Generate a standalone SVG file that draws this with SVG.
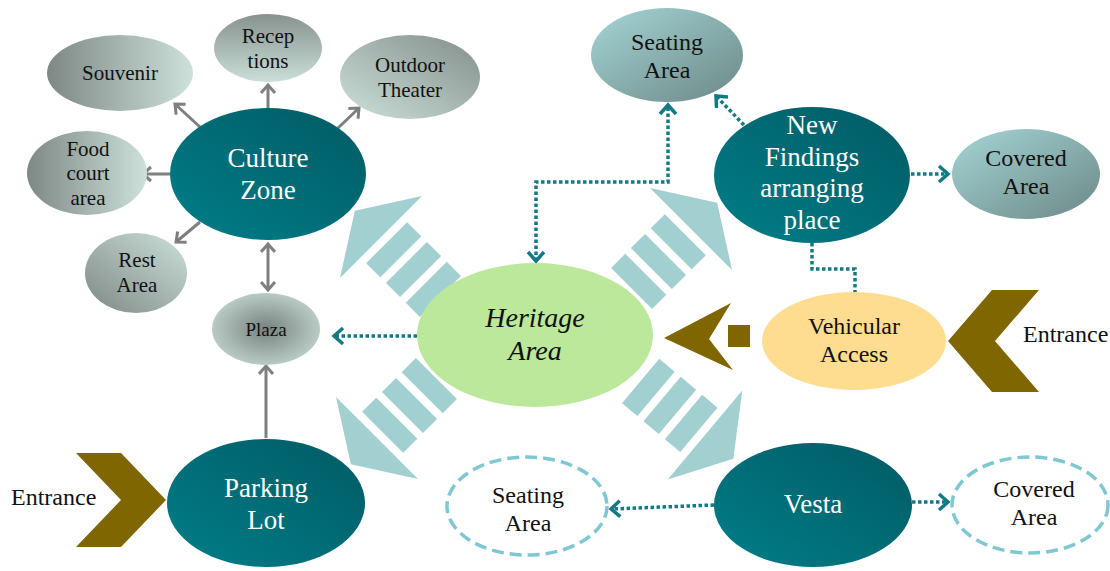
<svg xmlns="http://www.w3.org/2000/svg" xmlns:xlink="http://www.w3.org/1999/xlink" width="1110" height="571" viewBox="0 0 1110 571">
<style>
  .t { font-family: "Liberation Serif", "Times New Roman", serif; text-anchor: middle; fill: #111; }
  .w { fill: #ffffff; font-size: 27px; }
  .s20 { font-size: 21px; }
  .s24 { font-size: 24px; }
  .gray { fill: none; stroke: #7f7f7f; stroke-width: 3; }
  .dot { fill: none; stroke: #117b85; stroke-width: 3.5; stroke-dasharray: 3.5 2.5; }
  .dash { fill: #ffffff; stroke: #7fc7d3; stroke-width: 3.5; stroke-dasharray: 12 6; }
  .blk { fill: #a2cfd0; }
  .brown { fill: #7f6600; }
</style>
<defs>
  <linearGradient id="gTeal" x1="0" y1="1" x2="1" y2="0">
    <stop offset="0" stop-color="#007e88"/>
    <stop offset="1" stop-color="#025a64"/>
  </linearGradient>
  <linearGradient id="gLR" x1="0" y1="0" x2="1" y2="0">
    <stop offset="0" stop-color="#7e8885"/>
    <stop offset="1" stop-color="#cde1da"/>
  </linearGradient>
  <linearGradient id="gTB" x1="0" y1="0" x2="0" y2="1">
    <stop offset="0" stop-color="#87928f"/>
    <stop offset="1" stop-color="#cadfd8"/>
  </linearGradient>
  <linearGradient id="gTRBL" x1="1" y1="0" x2="0" y2="1">
    <stop offset="0" stop-color="#838e8b"/>
    <stop offset="1" stop-color="#cde1da"/>
  </linearGradient>
  <linearGradient id="gBLTR" x1="0" y1="1" x2="1" y2="0">
    <stop offset="0" stop-color="#7e8885"/>
    <stop offset="1" stop-color="#cde1da"/>
  </linearGradient>
  <radialGradient id="gPlaza" cx="0.5" cy="0.5" r="0.6">
    <stop offset="0" stop-color="#78827f"/>
    <stop offset="1" stop-color="#c6d9d3"/>
  </radialGradient>
  <linearGradient id="gSea" x1="0" y1="0" x2="1" y2="1">
    <stop offset="0" stop-color="#a5d5d6"/>
    <stop offset="1" stop-color="#6c8886"/>
  </linearGradient>
  <marker id="mGray" viewBox="-14 -10 20 20" refX="0" refY="0" markerWidth="20" markerHeight="20" markerUnits="userSpaceOnUse" orient="auto-start-reverse">
    <path d="M-8,-7 L0,0 L-8,7" fill="none" stroke="#7f7f7f" stroke-width="3"/>
  </marker>
  <marker id="mTeal" viewBox="-14 -10 20 20" refX="0" refY="0" markerWidth="20" markerHeight="20" markerUnits="userSpaceOnUse" orient="auto-start-reverse">
    <path d="M-9,-8 L0,0 L-9,8" fill="none" stroke="#117b85" stroke-width="3.5"/>
  </marker>
  <g id="blockArrow" class="blk">
    <polygon points="0,-58 37,0 0,58"/>
    <rect x="-28" y="-29" width="20" height="58"/>
    <rect x="-56" y="-29" width="20" height="58"/>
    <rect x="-84" y="-29" width="20" height="58"/>
  </g>
</defs>
<rect width="1110" height="571" fill="#ffffff"/>

<g id="block-arrows">
  <use xlink:href="#blockArrow" href="#blockArrow" transform="translate(381,237) rotate(-135)"/>
  <use xlink:href="#blockArrow" href="#blockArrow" transform="translate(691,229) rotate(-45)"/>
  <use xlink:href="#blockArrow" href="#blockArrow" transform="translate(377,438) rotate(135)"/>
  <use xlink:href="#blockArrow" href="#blockArrow" transform="translate(705,435) rotate(40)"/>
</g>

<g id="connectors">
  <path class="gray" d="M200,127 L175,104" marker-end="url(#mGray)"/>
  <path class="gray" d="M268,108 L268,85" marker-end="url(#mGray)"/>
  <path class="gray" d="M338,128 L359,108" marker-end="url(#mGray)"/>
  <path class="gray" d="M170,174 L143,174" marker-end="url(#mGray)"/>
  <path class="gray" d="M200,222 L176,242" marker-end="url(#mGray)"/>
  <path class="gray" d="M268,244 L268,290" marker-start="url(#mGray)" marker-end="url(#mGray)"/>
  <path class="gray" d="M266,438 L266,366" marker-end="url(#mGray)"/>
  <path class="dot" d="M417,336 L334,336" marker-end="url(#mTeal)"/>
  <path class="dot" d="M536,261 L536,182 L668,182 L668,105" marker-start="url(#mTeal)" marker-end="url(#mTeal)"/>
  <path class="dot" d="M744,125 L716,96" marker-end="url(#mTeal)"/>
  <path class="dot" d="M911,174 L948,174" marker-end="url(#mTeal)"/>
  <path class="dot" d="M812,243 L812,269 L855,269 L855,292"/>
  <path class="dot" d="M714,505 L611,509" marker-end="url(#mTeal)"/>
  <path class="dot" d="M912,502 L948,502" marker-end="url(#mTeal)"/>
</g>

<g id="culture-zone">
  <ellipse cx="268" cy="174" rx="98" ry="66" fill="url(#gTeal)"/>
  <text class="t w" x="268" y="167">Culture</text>
  <text class="t w" x="268" y="199">Zone</text>
</g>
<g id="souvenir">
  <ellipse cx="120" cy="73" rx="73" ry="38" fill="url(#gLR)"/>
  <text class="t s20" x="120" y="80">Souvenir</text>
</g>
<g id="receptions">
  <ellipse cx="268" cy="48" rx="54" ry="34" fill="url(#gTB)"/>
  <text class="t s20" x="268" y="43">Recep</text>
  <text class="t s20" x="268" y="68">tions</text>
</g>
<g id="outdoor-theater">
  <ellipse cx="410" cy="77" rx="70" ry="42" fill="url(#gTRBL)"/>
  <text class="t s20" x="410" y="72">Outdoor</text>
  <text class="t s20" x="410" y="97">Theater</text>
</g>
<g id="food-court">
  <ellipse cx="87" cy="173" rx="60" ry="42" fill="url(#gLR)"/>
  <text class="t s20" x="88" y="156">Food</text>
  <text class="t s20" x="88" y="180">court</text>
  <text class="t s20" x="88" y="205">area</text>
</g>
<g id="rest-area">
  <ellipse cx="136" cy="273" rx="51" ry="40" fill="url(#gBLTR)"/>
  <text class="t s20" x="137" y="267">Rest</text>
  <text class="t s20" x="137" y="292">Area</text>
</g>
<g id="plaza">
  <ellipse cx="266" cy="329" rx="54" ry="36" fill="url(#gPlaza)"/>
  <text class="t" style="font-size:19px" x="266" y="336">Plaza</text>
</g>
<g id="parking-lot">
  <ellipse cx="266" cy="503" rx="99" ry="64" fill="url(#gTeal)"/>
  <text class="t w" x="266" y="497">Parking</text>
  <text class="t w" x="266" y="529">Lot</text>
</g>
<g id="entrance-left">
  <polygon class="brown" points="76,453 121,453 166,500 121,547 76,547 121,500"/>
  <text class="t s24" style="text-anchor:start" x="11" y="505">Entrance</text>
</g>
<g id="heritage-area">
  <ellipse cx="535" cy="335" rx="118" ry="72" fill="#bbe89b"/>
  <text class="t" style="font-size:28px;font-style:italic" x="535" y="327">Heritage</text>
  <text class="t" style="font-size:28px;font-style:italic" x="535" y="360">Area</text>
</g>
<g id="seating-top">
  <ellipse cx="667" cy="55" rx="76" ry="47" fill="url(#gSea)"/>
  <text class="t s24" x="667" y="50">Seating</text>
  <text class="t s24" x="667" y="78">Area</text>
</g>
<g id="new-findings">
  <ellipse cx="812" cy="175" rx="98" ry="68" fill="url(#gTeal)"/>
  <text class="t w" x="812" y="134">New</text>
  <text class="t w" x="812" y="166">Findings</text>
  <text class="t w" x="812" y="197">arranging</text>
  <text class="t w" x="812" y="229">place</text>
</g>
<g id="covered-top">
  <ellipse cx="1026" cy="174" rx="74" ry="45" fill="url(#gSea)"/>
  <text class="t s24" x="1026" y="166">Covered</text>
  <text class="t s24" x="1026" y="194">Area</text>
</g>
<g id="vehicular-access">
  <ellipse cx="854" cy="341" rx="92" ry="49" fill="#fedc90"/>
  <text class="t s24" x="854" y="334">Vehicular</text>
  <text class="t s24" x="854" y="362">Access</text>
</g>
<g id="vehicular-arrow">
  <polygon class="brown" points="664,338 731,303 709,339 733,370"/>
  <rect class="brown" x="728" y="325" width="22" height="22"/>
</g>
<g id="entrance-right">
  <polygon class="brown" points="992,290 1039,290 995,341 1039,392 992,392 948,341"/>
  <text class="t s24" style="text-anchor:start" x="1023" y="342">Entrance</text>
</g>
<g id="vesta">
  <ellipse cx="813" cy="505" rx="99" ry="62" fill="url(#gTeal)"/>
  <text class="t w" x="813" y="513">Vesta</text>
</g>
<g id="seating-bottom">
  <ellipse class="dash" cx="527" cy="506" rx="80" ry="49"/>
  <text class="t s24" x="528" y="503">Seating</text>
  <text class="t s24" x="528" y="531">Area</text>
</g>
<g id="covered-bottom">
  <ellipse class="dash" cx="1030" cy="505" rx="78" ry="48"/>
  <text class="t s24" x="1034" y="497">Covered</text>
  <text class="t s24" x="1034" y="525">Area</text>
</g>
</svg>
